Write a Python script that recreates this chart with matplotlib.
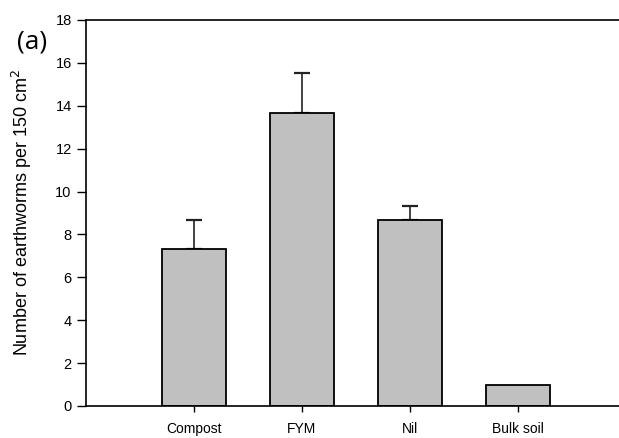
import matplotlib
matplotlib.use("Agg")
import matplotlib.pyplot as plt

# treatments and earthworm counts (mean + upper SE)
categories = ["Compost", "FYM", "Nil", "Bulk soil"]
means      = [7.33, 13.67, 8.67, 1.0]
errors     = [1.33, 1.87, 0.67, 0.0]
yticks     = [0, 2, 4, 6, 8, 10, 12, 14, 16, 18]

plt.rcParams["font.family"] = ["Liberation Sans", "DejaVu Sans"]

fig = plt.figure(figsize=(6.19, 4.38), dpi=100)
ax = fig.add_axes([0.1389, 0.0731, 0.8611, 0.8813])

x = list(range(1, len(categories) + 1))
ax.bar(x, means, width=0.6, color="#c0c0c0", edgecolor="black", linewidth=1.3, zorder=2)

# only upper error bars drawn, skip the ones with no spread
ex = [xi for xi, e in zip(x, errors) if e > 0]
em = [m for m, e in zip(means, errors) if e > 0]
ee = [e for e in errors if e > 0]
ax.errorbar(ex, em, yerr=[[0] * len(ee), ee], fmt="none",
            ecolor="#222222", elinewidth=1.2, capsize=6, capthick=1.6, zorder=1)

ax.set_xlim(0, 4.935)
ax.set_ylim(0, 18)
ax.set_yticks(yticks)
ax.set_xticks(x)
ax.set_xticklabels(categories, fontsize=10)
ax.tick_params(axis="y", labelsize=10.5, length=6.3, width=1, direction="out", pad=4)
ax.tick_params(axis="x", length=4.3, width=1, direction="out", pad=7)

ax.spines["right"].set_visible(False)
for s in ["left", "bottom", "top"]:
    ax.spines[s].set_linewidth(1.2)

ax.set_ylabel("Number of earthworms per 150 cm$^2$", fontsize=13, labelpad=15)

fig.text(0.027, 0.903, "(a)", fontsize=19, family="Open Sans", ha="left", va="center")

plt.savefig("out.png", dpi=100)
plt.close()
